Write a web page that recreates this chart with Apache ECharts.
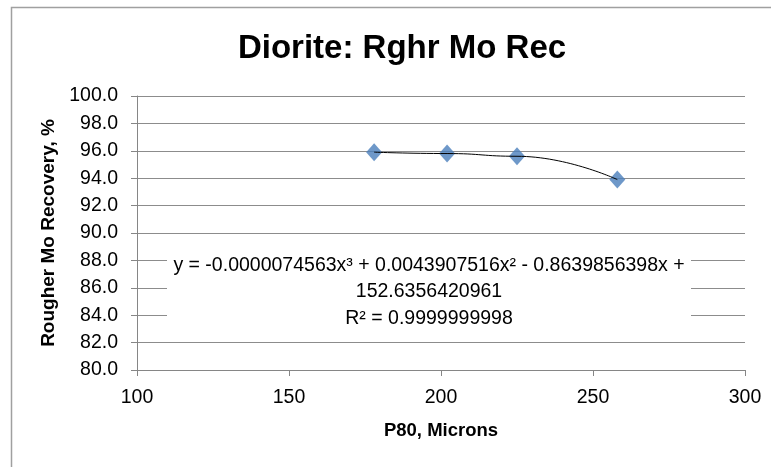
<!DOCTYPE html>
<html>
<head>
<meta charset="utf-8">
<script src="https://cdn.jsdelivr.net/npm/echarts@6/dist/echarts.min.js"></script>
<style>html,body{margin:0;padding:0;background:#fff}#c{width:771px;height:467px}</style>
</head>
<body>
<div id="c"></div>
<script>
const titleText = 'Diorite: Rghr Mo Rec';
const xName = 'P80, Microns';
const yName = 'Rougher Mo Recovery, %';
const p80 = [178, 202, 225, 258];
const recovery = [95.9, 95.8, 95.6, 93.9];
const equationLines = ['y = -0.0000074563x³ + 0.0043907516x² - 0.8639856398x +', '152.6356420961', 'R² = 0.9999999998'];

const FONT = '"Liberation Sans", Arial, sans-serif';
const pts = p80.map((x, i) => [x, recovery[i]]);
const chart = echarts.init(document.getElementById('c'));
chart.setOption({
  animation: false,
  backgroundColor: '#fff',
  title: {
    text: titleText, left: 397, top: 27, textAlign: 'center',
    textStyle: { fontFamily: FONT, fontWeight: 'bold', fontSize: 33, color: '#000' }
  },
  grid: { left: 137, top: 96, width: 608, height: 274 },
  xAxis: {
    type: 'value', min: 100, max: 300, interval: 50,
    name: xName, nameLocation: 'middle', nameGap: 51,
    nameTextStyle: { fontFamily: FONT, fontWeight: 'bold', fontSize: 18.5, color: '#000' },
    axisLine: { show: true, lineStyle: { color: '#868686', width: 1 } },
    axisTick: { show: true, length: 6, lineStyle: { color: '#868686' } },
    axisLabel: { margin: 18, fontFamily: FONT, fontSize: 19.5, color: '#000' },
    splitLine: { show: false }
  },
  yAxis: {
    type: 'value', min: 80, max: 100, interval: 2,
    name: yName, nameLocation: 'middle', nameGap: 78, nameRotate: 90,
    nameTextStyle: { fontFamily: FONT, fontWeight: 'bold', fontSize: 19, color: '#000' },
    axisLine: { show: true, lineStyle: { color: '#868686', width: 1 } },
    axisTick: { show: true, length: 6, lineStyle: { color: '#868686' } },
    axisLabel: { margin: 19, fontFamily: FONT, fontSize: 19.5, color: '#000', formatter: v => v.toFixed(1) },
    splitLine: { show: true, lineStyle: { color: '#8c8c8c', width: 1 } }
  },
  graphic: [
    { type: 'rect', left: 9, top: 5, shape: { width: 800, height: 500 }, style: { fill: 'none', stroke: '#a0a0a0', lineWidth: 1.5 }, z: 0 },
    { type: 'rect', left: 167, top: 250, shape: { width: 524, height: 80 }, style: { fill: '#fff' }, z: 10 },
    { type: 'text', x: 429, y: 252, z: 11,
      style: { text: equationLines.join('\n'), fontFamily: FONT, fontSize: 19.5, lineHeight: 26.5, fill: '#000', align: 'center', verticalAlign: 'top', textAlign: 'center', textVerticalAlign: 'top' } }
  ],
  series: [
    { type: 'scatter', data: pts, symbol: 'diamond', symbolSize: [16, 18],
      itemStyle: { color: '#4a7ebb' }, z: 3 },
    { type: 'line', data: pts, smooth: 0.5, smoothMonotone: 'x', showSymbol: false, symbol: 'none',
      lineStyle: { color: '#000', width: 1 }, z: 4, silent: true }
  ]
});
</script>
</body>
</html>
